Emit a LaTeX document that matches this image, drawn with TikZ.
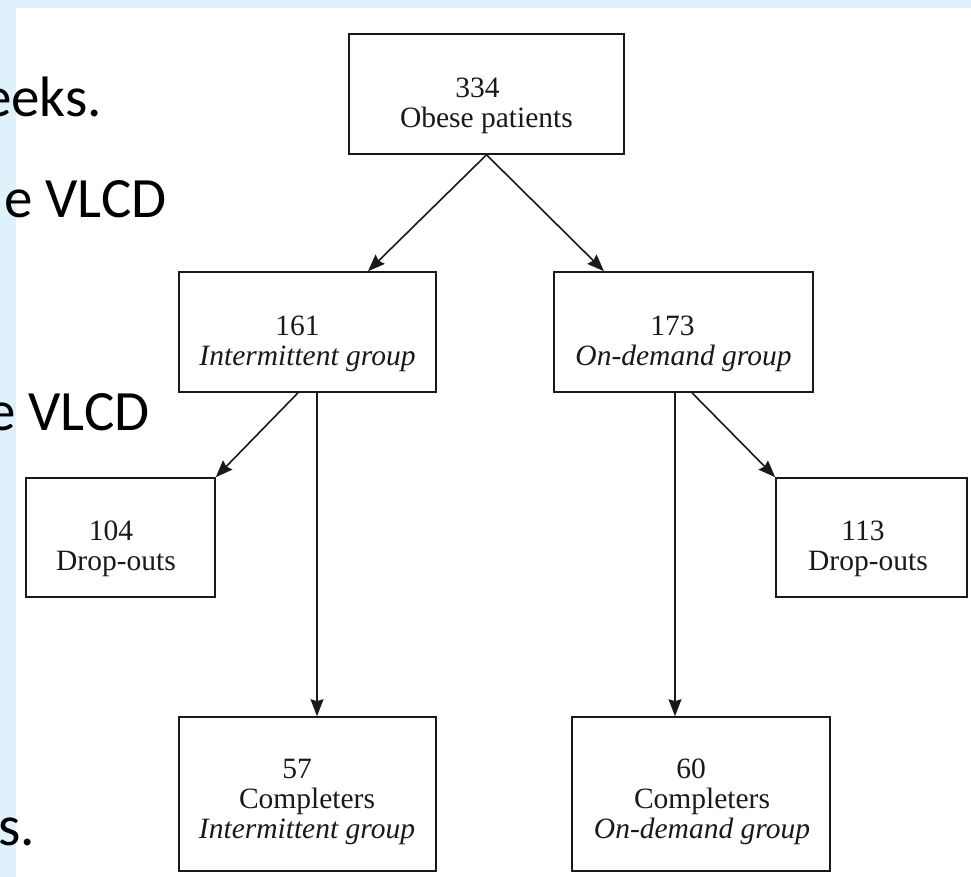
\documentclass[tikz,border=0pt]{standalone}
\usepackage{fontspec}
\setmainfont{Liberation Serif}
\newfontfamily\slidefont{Carlito}
\usetikzlibrary{arrows.meta}
\definecolor{slideblue}{RGB}{223,242,252}
\definecolor{ink}{RGB}{25,25,25}
\begin{document}
\begin{tikzpicture}[x=1pt,y=-1pt,
  boxnode/.style={draw=ink,line width=1.6pt,rectangle,inner sep=0pt},
  boxtext/.style={align=center,inner sep=0pt,font=\fontsize{29.5}{30}\selectfont,text=ink},
  slidetext/.style={anchor=base east,inner sep=0pt,font=\slidefont\fontsize{57}{60}\selectfont},
  conn/.style={draw=ink,line width=1.6pt,-{Stealth[length=17pt,width=13pt,inset=2pt]}}]
\useasboundingbox (0,0) rectangle (971,877);
\clip (0,0) rectangle (971,877);
\fill[slideblue] (0,0) rectangle (971,877);
\fill[white] (16,8) rectangle (971,877);
% slide text behind the picture
\node[slidetext] (s1) at (102,117) {eeks.};
\node[slidetext] (s2) at (167,218) {e VLCD};
\node[slidetext] (s3) at (150,430) {e VLCD};
\node[slidetext] (s4) at (35,845) {s.};
% boxes
\node[boxnode,minimum width=275pt,minimum height=120pt] (top) at (486.5,94) {};
\node[boxnode,minimum width=257pt,minimum height=120pt] (int) at (307.5,332) {};
\node[boxnode,minimum width=259pt,minimum height=120pt] (ond) at (683.5,332) {};
\node[boxnode,minimum width=189pt,minimum height=119pt] (drop1) at (120.5,537.5) {};
\node[boxnode,minimum width=191pt,minimum height=119pt] (drop2) at (871.5,537.5) {};
\node[boxnode,minimum width=257pt,minimum height=154pt] (comp1) at (307.5,794) {};
\node[boxnode,minimum width=258pt,minimum height=154pt] (comp2) at (701,794) {};
% texts
\node[boxtext] (ttop) at (486.5,106) {334\hspace*{18pt}\\Obese patients};
\node[boxtext] (tint) at (307.5,344) {161\hspace*{20pt}\\\textit{Intermittent group}};
\node[boxtext] (tond) at (683.5,344) {173\hspace*{22pt}\\\textit{On-demand group}};
\node[boxtext] (tdrop1) at (116,549) {104\hspace*{10pt}\\Drop-outs};
\node[boxtext] (tdrop2) at (868,549) {113\hspace*{10pt}\\Drop-outs};
\node[boxtext] (tcomp1) at (307,802) {57\hspace*{20pt}\\Completers\hspace*{6pt}\\\textit{Intermittent group}};
\node[boxtext] (tcomp2) at (702,802) {60\hspace*{22pt}\\Completers\hspace*{6pt}\\\textit{On-demand group}};
% connectors
\draw[conn] (top.south) -- ([xshift=60.5pt]int.north);
\draw[conn] (top.south) -- ([xshift=-79.5pt]ond.north);
\draw[conn] ([xshift=-9.5pt]int.south) -- (drop1.north east);
\draw[conn] ([xshift=9.5pt]int.south) -- ([xshift=9.5pt]comp1.north);
\draw[conn] ([xshift=8.5pt]ond.south) -- (drop2.north west);
\draw[conn] ([xshift=-8.5pt]ond.south) -- ([xshift=-26pt]comp2.north);
\end{tikzpicture}
\end{document}
